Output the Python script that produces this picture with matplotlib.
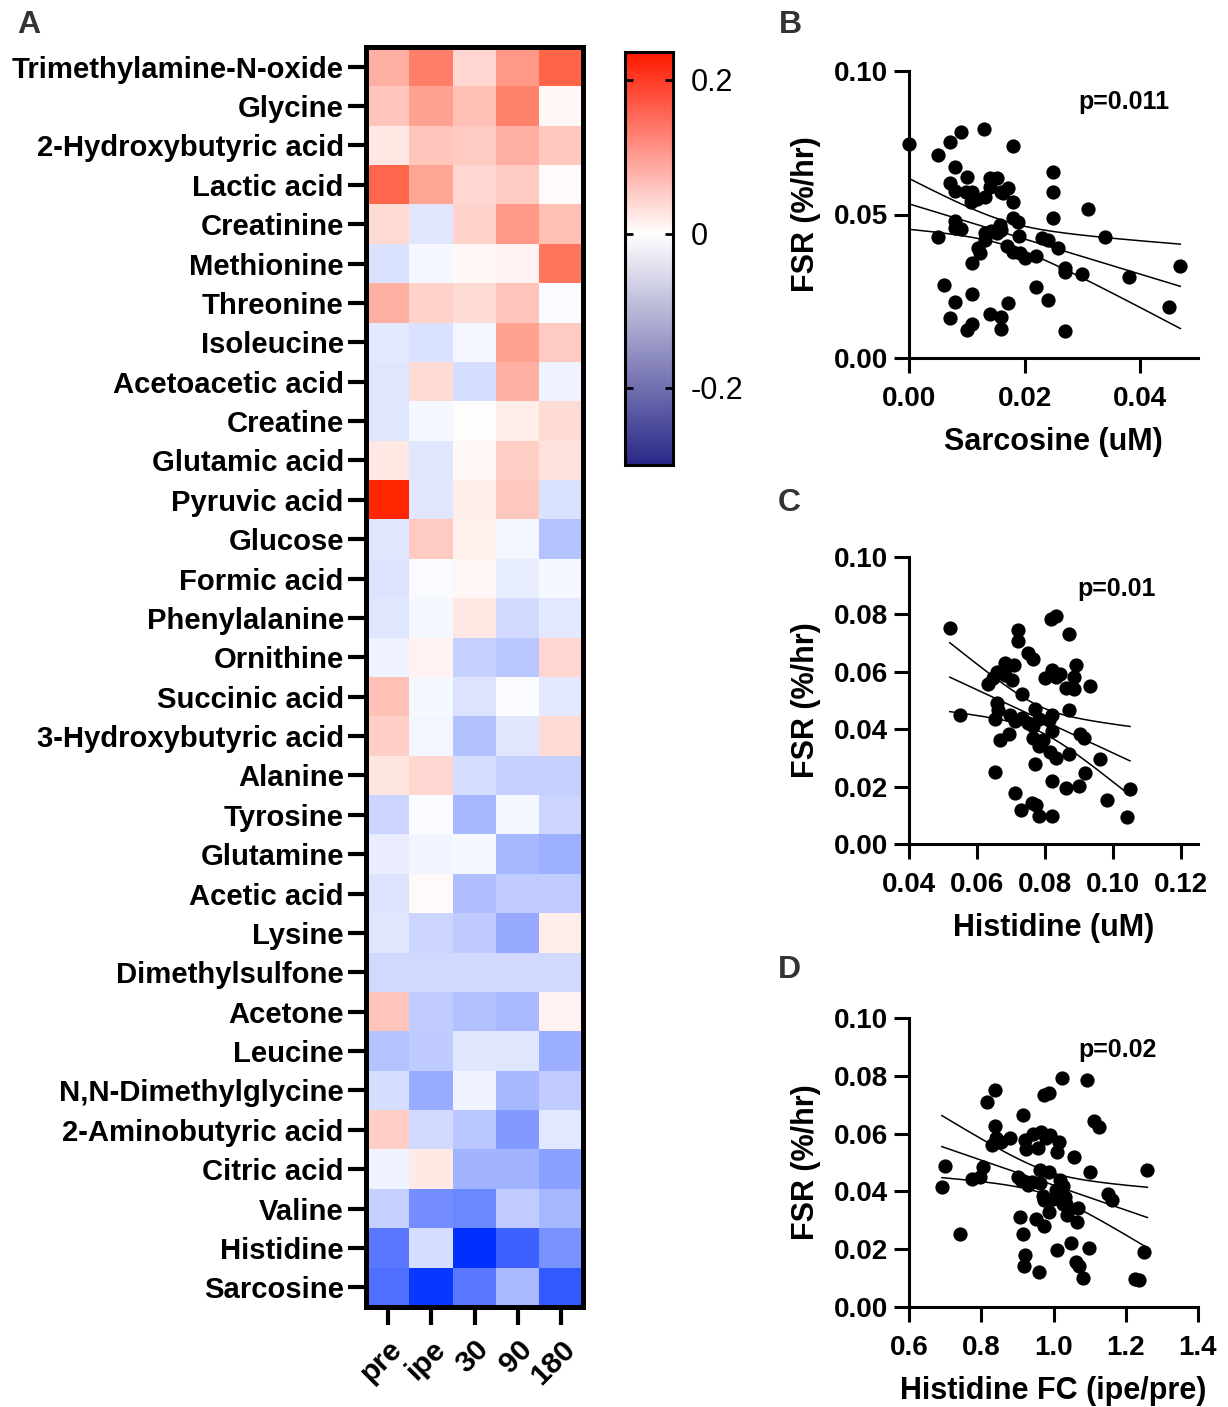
import numpy as np
import matplotlib
matplotlib.use("Agg")
import matplotlib.pyplot as plt
from matplotlib.colors import LinearSegmentedColormap, Normalize
import matplotlib.cm as cm

plt.rcParams['font.family'] = ['Liberation Sans', 'DejaVu Sans']

# ---------------- data ----------------
metabolites = ["Trimethylamine-N-oxide", "Glycine", "2-Hydroxybutyric acid", "Lactic acid",
               "Creatinine", "Methionine", "Threonine", "Isoleucine", "Acetoacetic acid",
               "Creatine", "Glutamic acid", "Pyruvic acid", "Glucose", "Formic acid",
               "Phenylalanine", "Ornithine", "Succinic acid", "3-Hydroxybutyric acid",
               "Alanine", "Tyrosine", "Glutamine", "Acetic acid", "Lysine",
               "Dimethylsulfone", "Acetone", "Leucine", "N,N-Dimethylglycine",
               "2-Aminobutyric acid", "Citric acid", "Valine", "Histidine", "Sarcosine"]
timepoints = ["pre", "ipe", "30", "90", "180"]

heat_values = [
    [0.087, 0.139, 0.042, 0.111, 0.168],
    [0.064, 0.101, 0.068, 0.135, 0.007],
    [0.026, 0.064, 0.057, 0.087, 0.059],
    [0.163, 0.097, 0.042, 0.057, 0.005],
    [0.040, -0.036, 0.047, 0.111, 0.068],
    [-0.042, -0.009, 0.007, 0.014, 0.149],
    [0.087, 0.047, 0.038, 0.064, -0.006],
    [-0.030, -0.042, -0.012, 0.101, 0.057],
    [-0.036, 0.038, -0.048, 0.087, -0.018],
    [-0.036, -0.009, 0.002, 0.019, 0.038],
    [0.026, -0.036, 0.007, 0.052, 0.031],
    [0.236, -0.036, 0.019, 0.059, -0.042],
    [-0.036, 0.057, 0.016, -0.012, -0.087],
    [-0.039, -0.006, 0.009, -0.027, -0.009],
    [-0.036, -0.009, 0.026, -0.054, -0.030],
    [-0.018, 0.014, -0.066, -0.081, 0.042],
    [0.068, -0.009, -0.039, -0.003, -0.030],
    [0.052, -0.012, -0.090, -0.036, 0.038],
    [0.028, 0.042, -0.048, -0.066, -0.066],
    [-0.060, -0.003, -0.105, -0.009, -0.060],
    [-0.024, -0.015, -0.009, -0.105, -0.114],
    [-0.039, 0.005, -0.093, -0.072, -0.072],
    [-0.036, -0.060, -0.075, -0.123, 0.019],
    [-0.054, -0.054, -0.054, -0.054, -0.054],
    [0.064, -0.072, -0.090, -0.099, 0.014],
    [-0.087, -0.075, -0.036, -0.036, -0.117],
    [-0.048, -0.120, -0.018, -0.102, -0.072],
    [0.052, -0.054, -0.081, -0.147, -0.033],
    [-0.018, 0.024, -0.108, -0.108, -0.135],
    [-0.066, -0.162, -0.171, -0.072, -0.105],
    [-0.195, -0.048, -0.300, -0.228, -0.159],
    [-0.207, -0.288, -0.195, -0.099, -0.240],
]
cbar_ticks = [-0.2, 0, 0.2]
cbar_ticklabels = ["-0.2", "0", "0.2"]

sarcosine_x = [0.0, 0.00503, 0.00705, 0.00896, 0.01306, 0.01803, 0.00803, 0.01012, 0.0140, 0.01514,
               0.00705, 0.00803, 0.00994, 0.01098, 0.01081, 0.01168, 0.0131, 0.0140, 0.0159, 0.01717,
               0.01618, 0.01803, 0.02497, 0.02497, 0.02497, 0.03104, 0.01803, 0.0189, 0.00803, 0.00803,
               0.00908, 0.00503, 0.0131, 0.01411, 0.0157, 0.016, 0.01514, 0.0131, 0.01902, 0.02295,
               0.0241, 0.03393, 0.02584, 0.01197, 0.01225, 0.01688, 0.01803, 0.01919, 0.02006, 0.02197,
               0.01098, 0.02699, 0.02699, 0.0300, 0.03798, 0.04694, 0.00601, 0.0219, 0.01098, 0.02399,
               0.00803, 0.01705, 0.04491, 0.00705, 0.0140, 0.016, 0.01098, 0.01012, 0.016, 0.02699]
sarcosine_fsr = [0.0745, 0.0708, 0.0754, 0.0787, 0.0797, 0.0737, 0.0665, 0.0632, 0.0626, 0.0626,
                 0.0609, 0.0582, 0.0577, 0.0580, 0.0545, 0.0553, 0.0560, 0.0597, 0.0580, 0.0592,
                 0.0574, 0.0545, 0.0647, 0.0577, 0.0487, 0.0520, 0.0487, 0.0473, 0.0476, 0.0452,
                 0.0449, 0.0420, 0.0437, 0.0444, 0.0464, 0.0447, 0.0437, 0.0412, 0.0426, 0.0418,
                 0.0412, 0.0420, 0.0383, 0.0383, 0.0365, 0.0389, 0.0369, 0.0365, 0.0348, 0.0357,
                 0.0331, 0.0313, 0.0299, 0.0294, 0.0281, 0.0319, 0.0255, 0.0249, 0.0223, 0.0203,
                 0.0195, 0.0191, 0.0177, 0.0139, 0.0154, 0.0143, 0.0119, 0.0099, 0.0101, 0.0093]

histidine_x = [0.052, 0.055, 0.072, 0.072, 0.0749, 0.0764, 0.0818, 0.0831, 0.087, 0.0681,
               0.071, 0.089, 0.066, 0.0631, 0.0648, 0.0681, 0.0702, 0.0801, 0.0821, 0.0843,
               0.0831, 0.0884, 0.0861, 0.0885, 0.0932, 0.0732, 0.0658, 0.0663, 0.0653, 0.0771,
               0.0872, 0.0821, 0.0698, 0.0713, 0.0732, 0.0749, 0.0764, 0.0781, 0.0811, 0.0821,
               0.0693, 0.0668, 0.0764, 0.0793, 0.0781, 0.0902, 0.0914, 0.0814, 0.0831, 0.087,
               0.0962, 0.0771, 0.0653, 0.0919, 0.0821, 0.0862, 0.0901, 0.105, 0.0713, 0.0983,
               0.0762, 0.0774, 0.0729, 0.0781, 0.0821, 0.1042]
histidine_fsr = [0.0751, 0.0451, 0.0745, 0.0708, 0.0664, 0.0646, 0.0785, 0.0794, 0.0733, 0.0631,
                 0.0623, 0.0623, 0.0600, 0.0559, 0.0577, 0.0588, 0.0573, 0.0579, 0.0606, 0.0592,
                 0.0582, 0.0582, 0.0542, 0.0539, 0.0550, 0.0522, 0.0490, 0.0466, 0.0434, 0.0472,
                 0.0466, 0.0449, 0.0449, 0.0428, 0.0440, 0.0420, 0.0411, 0.0437, 0.0432, 0.0394,
                 0.0385, 0.0364, 0.0368, 0.0364, 0.0341, 0.0385, 0.0368, 0.0321, 0.0300, 0.0312,
                 0.0295, 0.0278, 0.0252, 0.0248, 0.0220, 0.0194, 0.0203, 0.0190, 0.0179, 0.0153,
                 0.0142, 0.0136, 0.0118, 0.0097, 0.0097, 0.0093]

histidine_fc = [0.691, 0.699, 0.740, 0.774, 0.796, 0.805, 0.817, 0.839, 0.837, 0.830,
                0.842, 0.854, 0.879, 0.916, 0.902, 0.909, 0.920, 0.925, 0.943, 0.966,
                0.980, 0.989, 0.957, 1.015, 1.011, 0.975, 0.987, 1.023, 1.093, 1.112,
                1.126, 1.057, 1.100, 1.260, 0.962, 0.987, 0.930, 0.940, 0.962, 1.017,
                1.026, 0.971, 0.975, 1.008, 0.999, 1.017, 1.031, 1.026, 1.035, 1.068,
                1.151, 1.163, 0.987, 1.037, 1.066, 0.906, 0.952, 0.974, 0.916, 1.049,
                1.011, 1.097, 1.250, 0.922, 0.918, 1.061, 1.070, 0.959, 1.082, 1.225, 1.238]
histidine_fc_fsr = [0.0414, 0.0488, 0.0251, 0.0443, 0.0451, 0.0486, 0.0708, 0.0751, 0.0628, 0.0561,
                    0.0586, 0.0572, 0.0584, 0.0665, 0.0451, 0.0439, 0.0578, 0.0546, 0.0599, 0.0607,
                    0.0584, 0.0595, 0.0549, 0.0572, 0.0538, 0.0734, 0.0742, 0.0794, 0.0786, 0.0642,
                    0.0624, 0.0520, 0.0468, 0.0474, 0.0474, 0.0468, 0.0422, 0.0434, 0.0428, 0.0439,
                    0.0420, 0.0384, 0.0370, 0.0405, 0.0372, 0.0376, 0.0382, 0.0358, 0.0355, 0.0343,
                    0.0390, 0.0370, 0.0330, 0.0320, 0.0295, 0.0312, 0.0303, 0.0280, 0.0254, 0.0223,
                    0.0197, 0.0205, 0.0191, 0.0179, 0.0141, 0.0156, 0.0141, 0.0121, 0.0101, 0.0098, 0.0095]

p_values = ["p=0.011", "p=0.01", "p=0.02"]

# ---------------- figure ----------------
W, H = 1228, 1407
fig = plt.figure(figsize=(W / 100, H / 100), dpi=100)


def frac(left, top, right, bottom):
    return [left / W, 1 - bottom / H, (right - left) / W, (bottom - top) / H]


# Heatmap
vmin, vmax = -0.30, 0.236
norm = Normalize(vmin=vmin, vmax=vmax)
wpos = -vmin / (vmax - vmin)
heat_cmap = LinearSegmentedColormap.from_list(
    "heat", [(0.0, "#0030ff"), (wpos, "#ffffff"), (1.0, "#ff2600")])
bar_cmap = LinearSegmentedColormap.from_list(
    "bar", [(0.0, "#2a2888"), (wpos, "#ffffff"), (1.0, "#ff1800")])

axh = fig.add_axes(frac(366, 47, 583, 1307))
data = np.array(heat_values)
axh.imshow(data, cmap=heat_cmap, norm=norm, aspect="auto", interpolation="nearest")
axh.set_yticks(range(len(metabolites)))
axh.set_yticklabels(metabolites, fontsize=21.1, fontweight="bold")
axh.set_xticks(range(len(timepoints)))
axh.set_xticklabels(timepoints, fontsize=21.5, fontweight="bold", rotation=45,
                    ha="right", va="top", rotation_mode="anchor")
axh.tick_params(axis="both", length=13, width=3, direction="out", pad=3)
axh.tick_params(axis="x", pad=7)
for s in axh.spines.values():
    s.set_linewidth(3.6)

# Colorbar
axc = fig.add_axes(frac(625, 52, 673, 465))
cb = fig.colorbar(cm.ScalarMappable(norm=norm, cmap=bar_cmap), cax=axc)
cb.set_ticks(cbar_ticks)
cb.set_ticklabels(cbar_ticklabels)
cb.outline.set_linewidth(2.2)
axc.tick_params(axis="y", direction="in", left=True, right=True, length=6, width=2,
                labelsize=22, pad=13)


def reg_ci(x, y, xs):
    x = np.asarray(x)
    y = np.asarray(y)
    n = len(x)
    slope, intercept = np.polyfit(x, y, 1)
    resid = y - (slope * x + intercept)
    s = np.sqrt(np.sum(resid ** 2) / (n - 2))
    xm = x.mean()
    sxx = np.sum((x - xm) ** 2)
    t = 1.996
    yhat = slope * xs + intercept
    se = s * np.sqrt(1.0 / n + (xs - xm) ** 2 / sxx)
    return yhat, yhat - t * se, yhat + t * se


yticks_list = {
    "B": [0.0, 0.05, 0.10],
    "C": [0.0, 0.02, 0.04, 0.06, 0.08, 0.10],
    "D": [0.0, 0.02, 0.04, 0.06, 0.08, 0.10],
}
yticklabels_list = {
    "B": ["0.00", "0.05", "0.10"],
    "C": ["0.00", "0.02", "0.04", "0.06", "0.08", "0.10"],
    "D": ["0.00", "0.02", "0.04", "0.06", "0.08", "0.10"],
}


def scatter_panel(rect, x, y, xlim, xticks, xticklabels, xlabel, ptext, letter, letter_xy):
    ax = fig.add_axes(rect)
    ax.scatter(x, y, s=105, color="black", zorder=3, clip_on=False, linewidths=0)
    xs = np.linspace(min(x), max(x), 200)
    yhat, lo, hi = reg_ci(x, y, xs)
    for arr in (yhat, lo, hi):
        ax.plot(xs, arr, color="black", lw=1.1, zorder=2)
    ax.set_xlim(*xlim)
    ax.set_ylim(0, 0.10)
    ax.set_xticks(xticks)
    ax.set_xticklabels(xticklabels)
    ax.set_yticks(yticks_list[letter])
    ax.set_yticklabels(yticklabels_list[letter])
    for lab in ax.get_xticklabels() + ax.get_yticklabels():
        lab.set_fontweight("bold")
        lab.set_fontsize(20)
    ax.spines["top"].set_visible(False)
    ax.spines["right"].set_visible(False)
    ax.spines["left"].set_linewidth(2.2)
    ax.spines["bottom"].set_linewidth(2.2)
    ax.tick_params(axis="both", length=11, width=2.2, direction="out", pad=4)
    ax.tick_params(axis="x", pad=9)
    ax.set_xlabel(xlabel, fontsize=22, fontweight="bold", labelpad=11)
    ax.set_ylabel("FSR (%/hr)", fontsize=22, fontweight="bold", labelpad=9)
    ax.text(ptext[0], ptext[1], ptext[2], transform=ax.transAxes, ha="center", va="center",
            fontsize=18, fontweight="bold")
    fig.text(letter_xy[0] / W, 1 - letter_xy[1] / H, letter, fontsize=23, fontweight="bold",
             color="#333333", ha="center", va="center")
    return ax


scatter_panel(frac(909, 71, 1198, 358), sarcosine_x, sarcosine_fsr, (0, 0.05),
              [0.0, 0.02, 0.04], ["0.00", "0.02", "0.04"], "Sarcosine (uM)",
              (0.744, 0.892, p_values[0]), "B", (790, 25))
scatter_panel(frac(909, 557, 1198, 844), histidine_x, histidine_fsr, (0.04, 0.125),
              [0.04, 0.06, 0.08, 0.10, 0.12], ["0.04", "0.06", "0.08", "0.10", "0.12"],
              "Histidine (uM)", (0.72, 0.888, p_values[1]), "C", (789, 503))
scatter_panel(frac(909, 1018, 1198, 1307), histidine_fc, histidine_fc_fsr, (0.6, 1.4),
              [0.6, 0.8, 1.0, 1.2, 1.4], ["0.6", "0.8", "1.0", "1.2", "1.4"],
              "Histidine FC (ipe/pre)", (0.723, 0.889, p_values[2]), "D", (789, 970))

fig.text(29 / W, 1 - 25 / H, "A", fontsize=23, fontweight="bold", color="#333333",
         ha="center", va="center")

fig.savefig("out.png", dpi=100)
